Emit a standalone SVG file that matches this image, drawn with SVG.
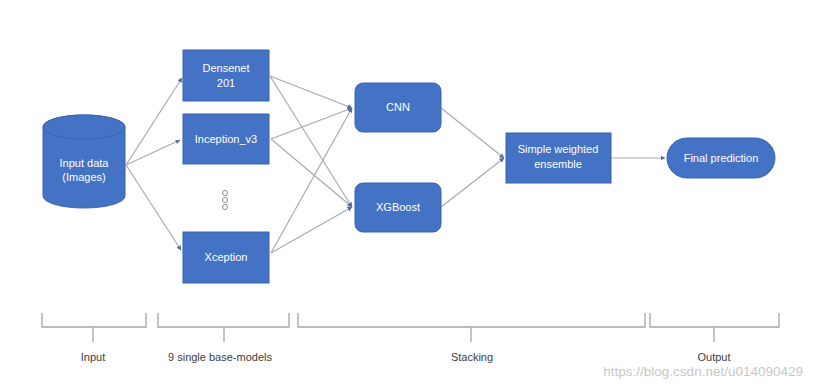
<svg xmlns="http://www.w3.org/2000/svg" width="818" height="386" viewBox="0 0 818 386">
<defs>
<style>
.node{fill:#4472C4;stroke:#3A63AE;stroke-width:1}
.nt{fill:#ffffff;font-family:"Liberation Sans",Arial,sans-serif;font-size:11px;text-anchor:middle}
.edge{fill:none;stroke:#A3AAB8;stroke-width:1.2;marker-end:url(#ah)}
.br{fill:none;stroke:#A6A6A6;stroke-width:1.3}
.lb{fill:#404040;font-family:"Liberation Sans",Arial,sans-serif;font-size:11px;text-anchor:middle}
</style>
<marker id="ah" viewBox="0 0 10 10" refX="9" refY="5" markerWidth="5" markerHeight="5" orient="auto" markerUnits="userSpaceOnUse">
<path d="M0,0 L10,5 L0,10 z" fill="#5C6E92"/>
</marker>
</defs>
<rect width="818" height="386" fill="#ffffff"/>
<g id="connectors">
<line class="edge" x1="126" y1="165" x2="182" y2="78"/>
<line class="edge" x1="126" y1="165" x2="180" y2="140"/>
<line class="edge" x1="126" y1="165" x2="181" y2="250"/>
<line class="edge" x1="270" y1="76" x2="352" y2="108"/>
<line class="edge" x1="270" y1="76" x2="352" y2="207"/>
<line class="edge" x1="271" y1="139" x2="352" y2="108"/>
<line class="edge" x1="271" y1="139" x2="352" y2="207"/>
<line class="edge" x1="271" y1="253" x2="352" y2="108"/>
<line class="edge" x1="271" y1="253" x2="352" y2="207"/>
<line class="edge" x1="441" y1="108" x2="504" y2="158"/>
<line class="edge" x1="441" y1="207" x2="504" y2="158"/>
<line class="edge" x1="611" y1="158" x2="665" y2="158"/>
</g>
<g id="input">
<path class="node" d="M43,127 L43,196 A41,12 0 0 0 125,196 L125,127 A41,12 0 0 0 43,127 Z"/>
<ellipse cx="84" cy="127" rx="41" ry="12" fill="#4472C4" stroke="#3A63AE"/>
<text class="nt" x="84" y="167">Input data</text>
<text class="nt" x="84" y="181">(Images)</text>
</g>
<g id="densenet">
<rect class="node" x="183" y="50" width="86" height="51"/>
<text class="nt" x="226" y="72">Densenet</text>
<text class="nt" x="226" y="87">201</text>
</g>
<g id="inception">
<rect class="node" x="183" y="114" width="86" height="50"/>
<text class="nt" x="226" y="143">Inception_v3</text>
</g>
<g id="dots">
<circle cx="225" cy="193" r="2.5" fill="none" stroke="#8A8A8A" stroke-width="1"/>
<circle cx="225" cy="200" r="2.5" fill="none" stroke="#8A8A8A" stroke-width="1"/>
<circle cx="225" cy="207" r="2.5" fill="none" stroke="#8A8A8A" stroke-width="1"/>
</g>
<g id="xception">
<rect class="node" x="183" y="232" width="86" height="51"/>
<text class="nt" x="226" y="261">Xception</text>
</g>
<g id="cnn">
<rect class="node" x="355" y="83" width="86" height="49" rx="8"/>
<text class="nt" x="398" y="111">CNN</text>
</g>
<g id="xgboost">
<rect class="node" x="355" y="183" width="86" height="49" rx="8"/>
<text class="nt" x="398" y="211">XGBoost</text>
</g>
<g id="ensemble">
<rect class="node" x="506" y="133" width="105" height="50"/>
<text class="nt" x="558" y="153">Simple weighted</text>
<text class="nt" x="558" y="168">ensemble</text>
</g>
<g id="final">
<rect class="node" x="667" y="138" width="108" height="40" rx="20"/>
<text class="nt" x="721" y="162">Final prediction</text>
</g>
<g id="brackets">
<path class="br" d="M42,313 V327 H146 V313 M93,327 V342"/>
<path class="br" d="M158,313 V327 H289 V313 M224,327 V342"/>
<path class="br" d="M298,313 V327 H645 V313 M471,327 V342"/>
<path class="br" d="M650,313 V327 H779 V313 M714,327 V342"/>
<text class="lb" x="93" y="361">Input</text>
<text class="lb" x="220" y="361">9 single base-models</text>
<text class="lb" x="472" y="361">Stacking</text>
<text class="lb" x="714" y="361">Output</text>
</g>
<text x="803" y="376" fill="#C8C8C8" font-family="Liberation Sans,Arial,sans-serif" font-size="13.5" text-anchor="end">https://blog.csdn.net/u014090429</text>
</svg>
